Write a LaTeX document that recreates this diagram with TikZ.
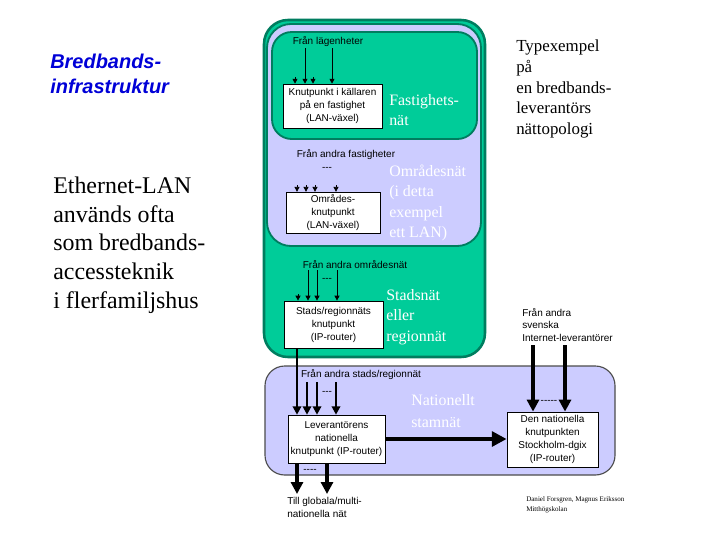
\documentclass[tikz,border=0pt]{standalone}
\usepackage{fontspec}
\setmainfont{Liberation Serif}
\setsansfont{Liberation Sans}
\usetikzlibrary{arrows.meta,positioning}
\definecolor{natgreen}{RGB}{0,204,153}
\definecolor{edgegreen}{RGB}{0,125,95}
\definecolor{lila}{RGB}{204,204,255}
\definecolor{titleblue}{RGB}{0,0,215}
\newcommand{\knutfont}{\sffamily\fontsize{7.1}{9.2}\selectfont}
\newcommand{\netfont}{\rmfamily\fontsize{11.3}{14.4}\selectfont}
\tikzset{
    region/.style={draw=edgegreen,line width=1.3pt,rounded corners=17pt},
    nation/.style={draw=black!70,fill=lila,line width=0.8pt,rounded corners=14pt},
    knut/.style={draw,fill=white,inner sep=0pt,align=center,font=\knutfont},
    lbl/.style={font=\knutfont,inner sep=0pt},
    netname/.style={text=white,font=\netfont,align=left,anchor=west,inner sep=0pt},
    stub/.style={-{Triangle[length=3.5pt,width=3.5pt]},semithick},
    feed/.style={-{Triangle[length=6pt,width=6pt]},line width=2pt},
    trunk/.style={-{Triangle[length=8.5pt,width=8.5pt]},line width=2.8pt},
    bigtrunk/.style={-{Triangle[length=10.5pt,width=10.5pt]},line width=3.5pt}
}

\begin{document}
\begin{tikzpicture}[x=0.025cm,y=-0.025cm]
\useasboundingbox (0,0) rectangle (720,540);

    % nät-områden
    \draw[nation] (265,366) rectangle (615,475);
    \draw[region,fill=natgreen,line width=1.8pt] (264,20) rectangle (485,357);
    \draw[region,fill=lila] (267,24) rectangle (481,246);
    \draw[region,fill=natgreen,rounded corners=14pt] (272,32) rectangle (477,139);

    % knutpunkter
    \node[knut,minimum width=2.48cm,minimum height=1.1cm]  (fast)  at (332.5,106)   {Knutpunkt i källaren\\på en fastighet\\(LAN-växel)};
    \node[knut,minimum width=2.35cm,minimum height=1.02cm] (omr)   at (333,212.5)   {Områdes-\\knutpunkt\\(LAN-växel)};
    \node[knut,minimum width=2.48cm,minimum height=1.18cm] (stads) at (333.5,324.5) {Stads/regionnäts\\knutpunkt\\(IP-router)};
    \node[knut,minimum width=2.43cm,minimum height=1.2cm]  (lev)   at (336.5,439)   {Leverantörens\\nationella\\knutpunkt (IP-router)};
    \node[knut,minimum width=2.28cm,minimum height=1.38cm] (dgix)  at (552.5,439.5) {Den nationella\\knutpunkten\\Stockholm-dgix\\(IP-router)};

    % namn på näten
    \node[netname] (fastnamn) at (389,110) {Fastighets-\\nät};
    \node[netname] (omrnamn)  at (389,203) {Områdesnät\\(i detta\\exempel\\ett LAN)};
    \node[netname] (stadnamn) at (386,317) {Stadsnät\\eller\\regionnät};
    \node[netname,font=\rmfamily\fontsize{11.3}{15.6}\selectfont] (natnamn) at (411,411) {Nationellt\\stamnät};

    % etiketter
    \node[lbl] (lgh)     at (328,42)  {Från lägenheter};
    \node[lbl] (andfast) at (346,155) {Från andra fastigheter};
    \node[lbl] (andomr)  at (355,265) {Från andra områdesnät};
    \node[lbl] (andstad) at (361,375) {Från andra stads/regionnät};
    \node[lbl] (dots1)   at (327,169) {-{}-{}-};
    \node[lbl] (dots2)   at (327,280) {-{}-{}-};
    \node[lbl] (dots3)   at (327,393) {-{}-{}-};
    \node[lbl] (dots4)   at (310,471) {-{}-{}-{}-};
    \node[lbl] (dots5)   at (549,402) {-{}-{}-{}-{}-};
    \node[lbl,align=left,anchor=west] (svisp) at (522,325) {Från andra\\svenska\\Internet-leverantörer};
    \node[lbl,align=left,anchor=west] (glob)  at (287,507) {Till globala/multi-\\nationella nät};
    \node[font=\rmfamily\fontsize{5}{7}\selectfont,align=left,anchor=west,inner sep=0pt] (credit) at (526,505) {Daniel Forsgren, Magnus Eriksson\\Mitthögskolan};

    % rubriker
    \node[anchor=west,align=left,inner sep=0pt,text=titleblue,font=\sffamily\bfseries\itshape\fontsize{14.2}{17.7}\selectfont] (titel) at (50,74) {Bredbands-\\infrastruktur};
    \node[anchor=west,align=left,inner sep=0pt,font=\rmfamily\fontsize{17}{20.4}\selectfont] (ethernet) at (53,245) {Ethernet-LAN\\används ofta\\som bredbands-\\accessteknik\\i flerfamiljshus};
    \node[anchor=west,align=left,inner sep=0pt,font=\rmfamily\fontsize{12}{14.6}\selectfont] (typex) at (516,89) {Typexempel\\på\\en bredbands-\\leverantörs\\nättopologi};

    % pilar in till fastighetens knutpunkt
    \coordinate (f1) at (295,77);
    \coordinate (f2) at (305,48);
    \coordinate (f3) at (313,77);
    \coordinate (f4) at (332,48);
    \foreach \p in {f1,f2,f3,f4}
        \draw[stub] (\p) -- (\p |- fast.north);

    % pilar in till områdets knutpunkt
    \coordinate (o1) at (297,185);
    \coordinate (o2) at (306,185);
    \coordinate (o3) at (315,185);
    \coordinate (o4) at (336,185);
    \foreach \p in {o1,o2,o3,o4}
        \draw[stub] (\p) -- (\p |- omr.north);

    % pilar in till stadsnätets knutpunkt
    \coordinate (s1) at (298,294);
    \coordinate (s2) at (308,270);
    \coordinate (s3) at (317,270);
    \coordinate (s4) at (337,270);
    \foreach \p in {s1,s2,s3,s4}
        \draw[stub] (\p) -- (\p |- stads.north);

    % pilar in till leverantörens knutpunkt
    \coordinate (ned) at (297,348);
    \draw[feed] (ned) -- (ned |- lev.north);
    \coordinate (l2) at (307,382);
    \coordinate (l3) at (317,382);
    \coordinate (l4) at (336,382);
    \foreach \p in {l2,l3,l4}
        \draw[feed] (\p) -- (\p |- lev.north);

    % andra svenska leverantörer
    \coordinate (sv1) at (533,345);
    \coordinate (sv2) at (565,345);
    \draw[trunk] (sv1) -- (sv1 |- dgix.north);
    \draw[trunk] (sv2) -- (sv2 |- dgix.north);

    % stamnätet
    \draw[bigtrunk] (lev.east) -- (lev.east -| dgix.west);

    % ut till globala nät
    \coordinate (g1) at (297,494);
    \coordinate (g2) at (327,494);
    \draw[trunk] (g1 |- lev.south) -- (g1);
    \draw[trunk] (g2 |- lev.south) -- (g2);

\end{tikzpicture}
\end{document}
